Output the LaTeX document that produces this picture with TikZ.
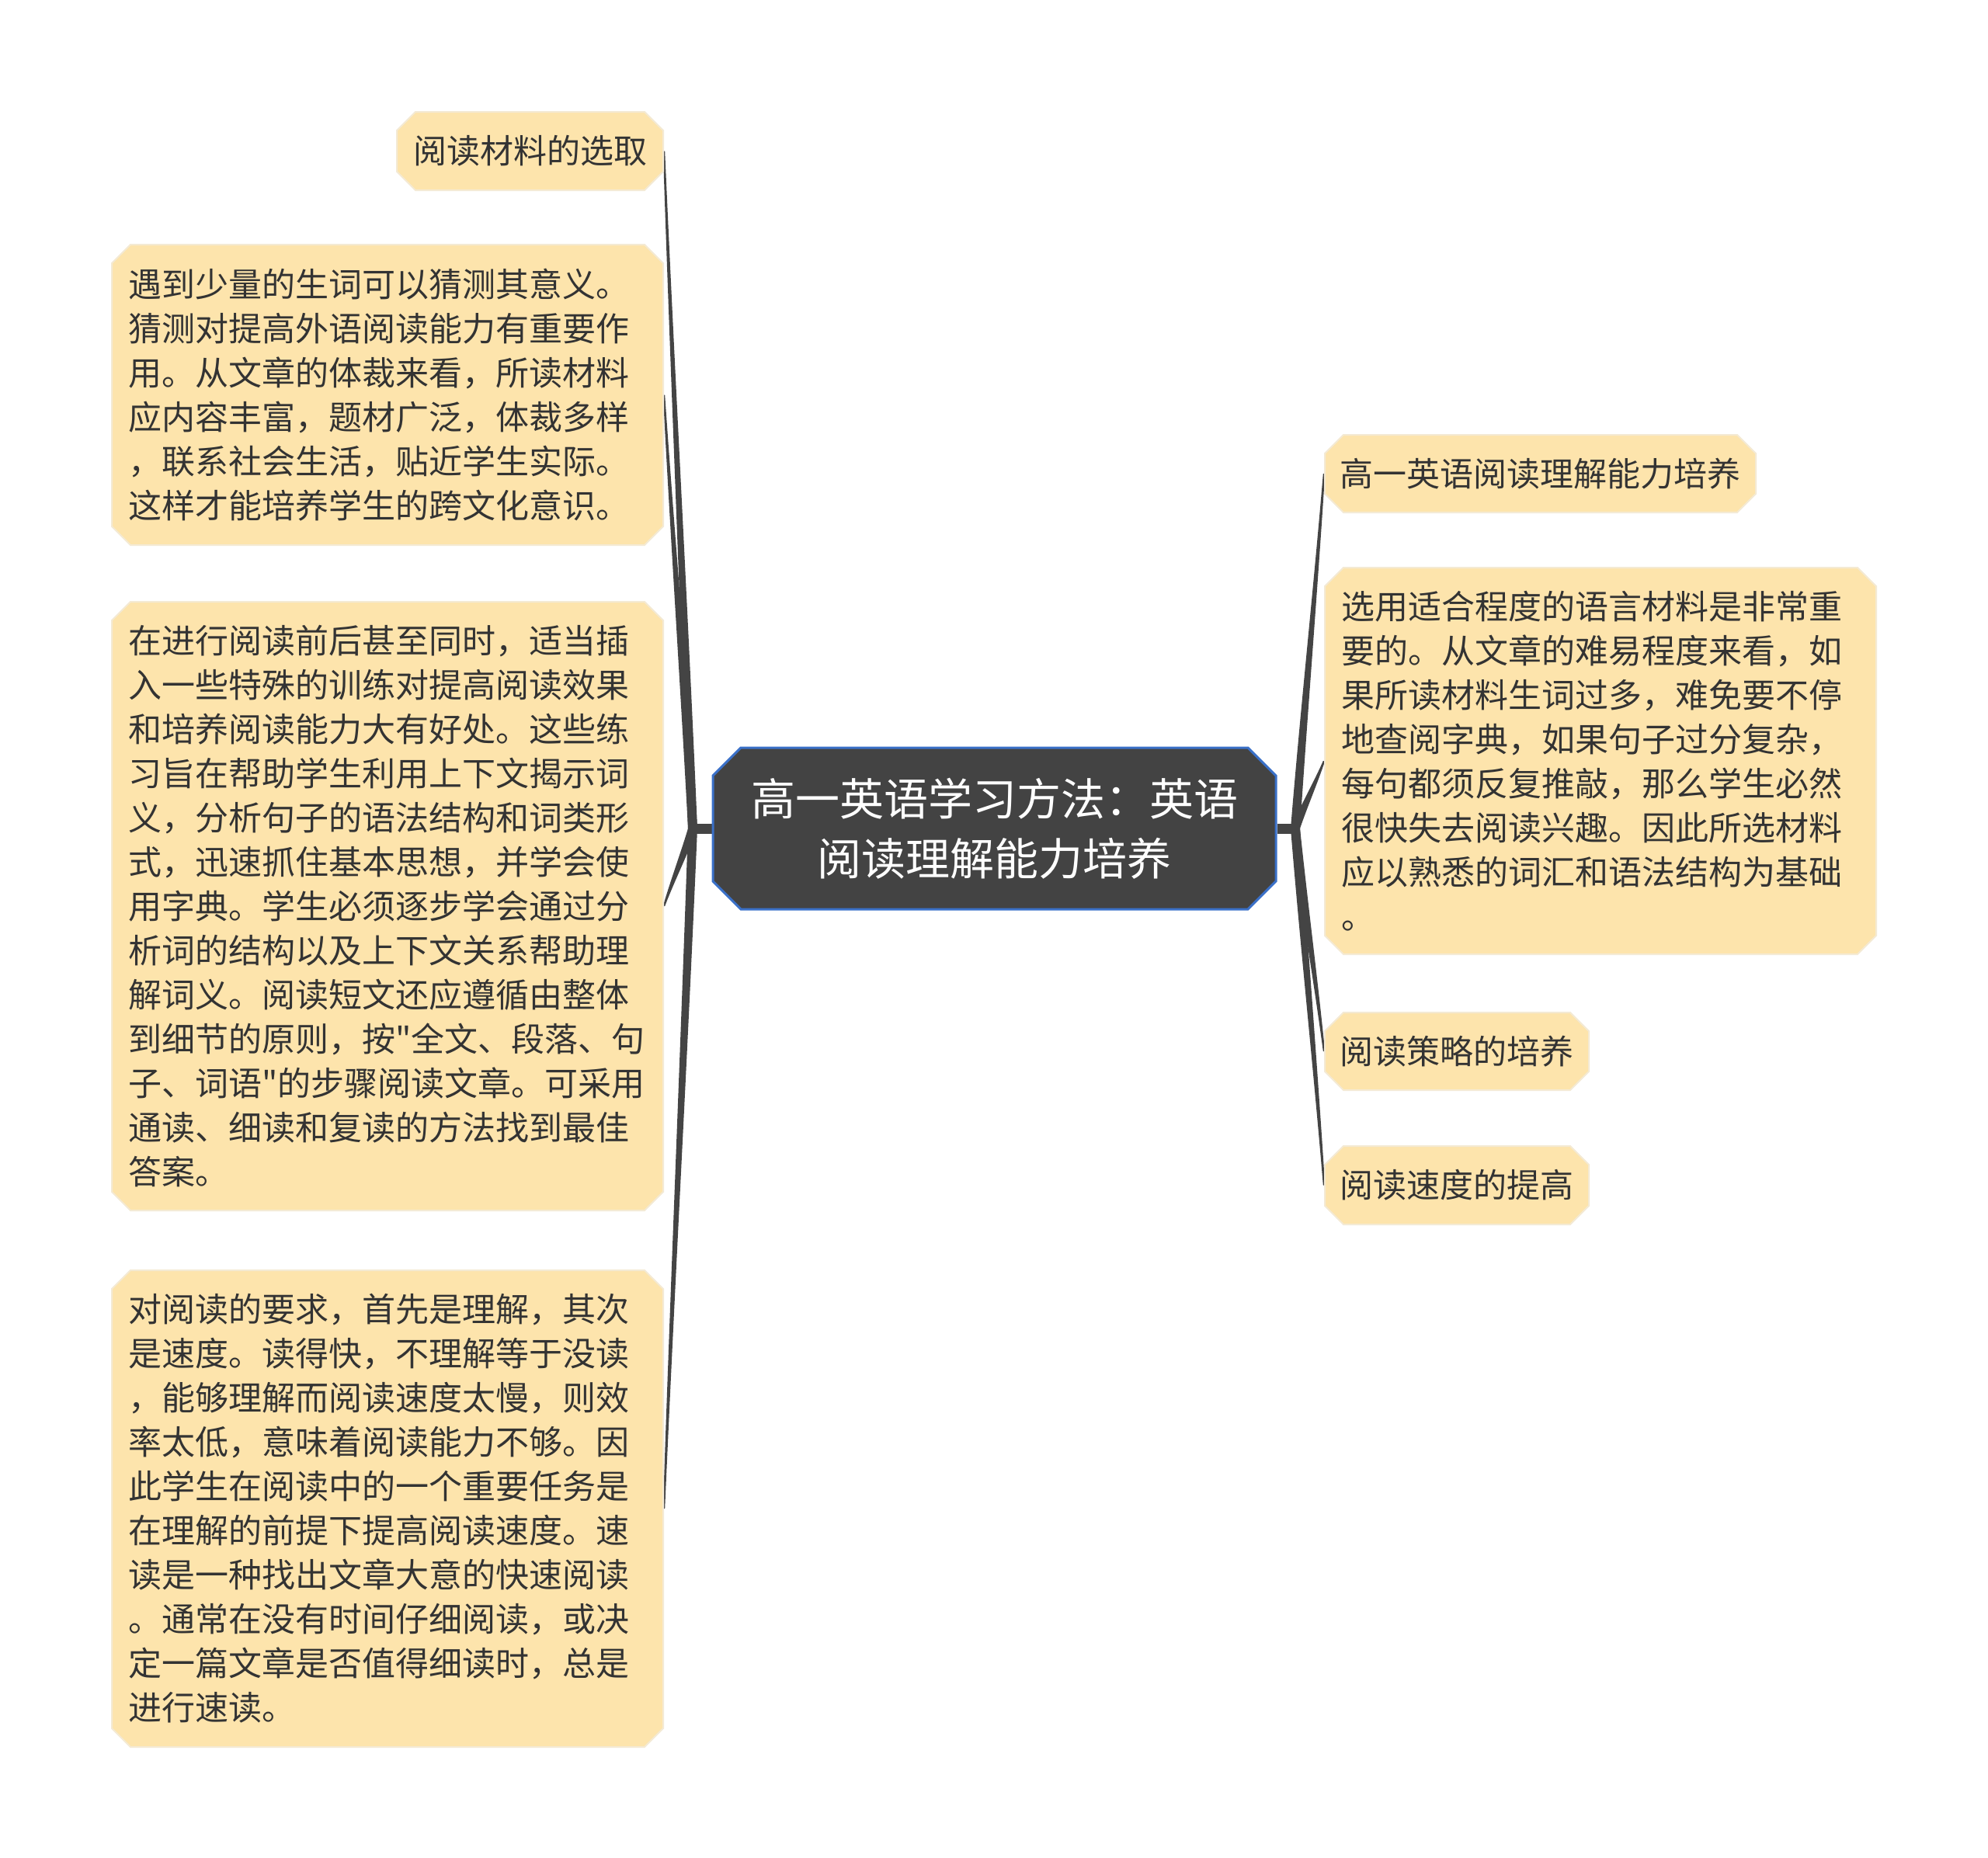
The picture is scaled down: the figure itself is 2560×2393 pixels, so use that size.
\documentclass[tikz,border=0pt]{standalone}
\usepackage{fontspec}
\setmainfont{Noto Sans CJK SC}[Ligatures=TeXOff]
\usetikzlibrary{shapes.misc,calc,backgrounds}
\definecolor{leaffill}{RGB}{253,228,172}
\definecolor{leafedge}{RGB}{244,234,212}
\definecolor{conncol}{RGB}{68,68,68}
\definecolor{rootfill}{RGB}{67,67,67}
\definecolor{rootedge}{RGB}{58,112,200}
\definecolor{txt}{RGB}{51,51,51}

% tapered connector: #1 root, #2 end, #3 half width at root
\newcommand{\mmbranch}[3]{%
  \fill[conncol] let \p1=(#1), \p2=(#2) in
    ({\x1-#3},\y1)
    .. controls ({\x1+0.3*(\x2-\x1)-0.8*#3},{\y1+0.33*(\y2-\y1)}) and ({\x1+0.7*(\x2-\x1)-0.45*#3},{\y1+0.67*(\y2-\y1)}) ..
    ({\x2-0.6pt},\y2) -- ({\x2+0.6pt},\y2)
    .. controls ({\x1+0.7*(\x2-\x1)+0.45*#3},{\y1+0.67*(\y2-\y1)}) and ({\x1+0.3*(\x2-\x1)+0.8*#3},{\y1+0.33*(\y2-\y1)}) ..
    ({\x1+#3},\y1) -- cycle;
}

\begin{document}
\begin{tikzpicture}[x=0.5pt,y=-0.5pt,
  leaf/.style={chamfered rectangle, chamfered rectangle xsep=6pt, chamfered rectangle ysep=6pt,
    fill=leaffill, draw=leafedge, line width=1pt, inner sep=0pt, text=txt,
    font=\fontsize{21.5pt}{28.5pt}\selectfont},
  multi/.style={text width=334pt, align=left, minimum width=355pt},
  centernode/.style={chamfered rectangle, chamfered rectangle xsep=9pt, chamfered rectangle ysep=9pt,
    fill=rootfill, draw=rootedge, line width=1.5pt, inner sep=0pt, text=white, align=center,
    font=\fontsize{28.5pt}{38.5pt}\selectfont, minimum width=362.5pt, minimum height=104pt},
  stub/.style={draw=conncol, line width=6.5pt}
]
\begin{pgfonlayer}{background}
  \fill[white] (0,0) rectangle (2560,2393);
\end{pgfonlayer}
\useasboundingbox (0,0) rectangle (2560,2393);

% central topic
\node[centernode] (C) at (1280.5,1067) {高一英语学习方法：英语\\阅读理解能力培养};

% left side
\node[leaf, minimum width=171.5pt, minimum height=50.5pt] (L1) at (682.5,194.5) {阅读材料的选取};
\node[leaf, multi, minimum height=193.5pt] (L2) at (499,508.5) {遇到少量的生词可以猜测其意义。\\猜测对提高外语阅读能力有重要作\\用。从文章的体裁来看，所读材料\\应内容丰富，题材广泛，体裁多样\\，联系社会生活，贴近学生实际。\\这样才能培养学生的跨文化意识。};
\node[leaf, multi, minimum height=392pt] (L3) at (499,1167) {在进行阅读前后甚至同时，适当插\\入一些特殊的训练对提高阅读效果\\和培养阅读能力大有好处。这些练\\习旨在帮助学生利用上下文揭示词\\义，分析句子的语法结构和词类形\\式，迅速抓住基本思想，并学会使\\用字典。学生必须逐步学会通过分\\析词的结构以及上下文关系帮助理\\解词义。阅读短文还应遵循由整体\\到细节的原则，按"全文、段落、句\\子、词语"的步骤阅读文章。可采用\\通读、细读和复读的方法找到最佳\\答案。};
\node[leaf, multi, minimum height=307pt] (L4) at (499,1943) {对阅读的要求，首先是理解，其次\\是速度。读得快，不理解等于没读\\，能够理解而阅读速度太慢，则效\\率太低，意味着阅读能力不够。因\\此学生在阅读中的一个重要任务是\\在理解的前提下提高阅读速度。速\\读是一种找出文章大意的快速阅读\\。通常在没有时间仔细阅读，或决\\定一篇文章是否值得细读时，总是\\进行速读。};

% right side
\node[leaf, minimum width=277.5pt, minimum height=50pt] (R1) at (1983.5,610) {高一英语阅读理解能力培养};
\node[leaf, multi, minimum height=249pt] (R2) at (2061,980) {选用适合程度的语言材料是非常重\\要的。从文章的难易程度来看，如\\果所读材料生词过多，难免要不停\\地查阅字典，如果句子过分复杂，\\每句都须反复推敲，那么学生必然\\很快失去阅读兴趣。因此所选材料\\应以熟悉的词汇和语法结构为基础\\。};
\node[leaf, minimum width=170pt, minimum height=50pt] (R3) at (1876,1354) {阅读策略的培养};
\node[leaf, minimum width=170pt, minimum height=50.5pt] (R4) at (1876,1526.5) {阅读速度的提高};

\coordinate (lroot) at (892,1067);
\coordinate (rroot) at (1668,1067);

\begin{pgfonlayer}{background}
  \draw[stub] (C.west) -- (lroot);
  \draw[stub] (C.east) -- (rroot);
  \mmbranch{lroot}{L1.east}{3pt}
  \mmbranch{lroot}{L2.east}{3pt}
  \mmbranch{lroot}{L3.east}{3pt}
  \mmbranch{lroot}{L4.east}{3pt}
  \mmbranch{rroot}{R1.west}{3pt}
  \mmbranch{rroot}{R2.west}{3pt}
  \mmbranch{rroot}{R3.west}{3pt}
  \mmbranch{rroot}{R4.west}{3pt}
\end{pgfonlayer}
\end{tikzpicture}
\end{document}
